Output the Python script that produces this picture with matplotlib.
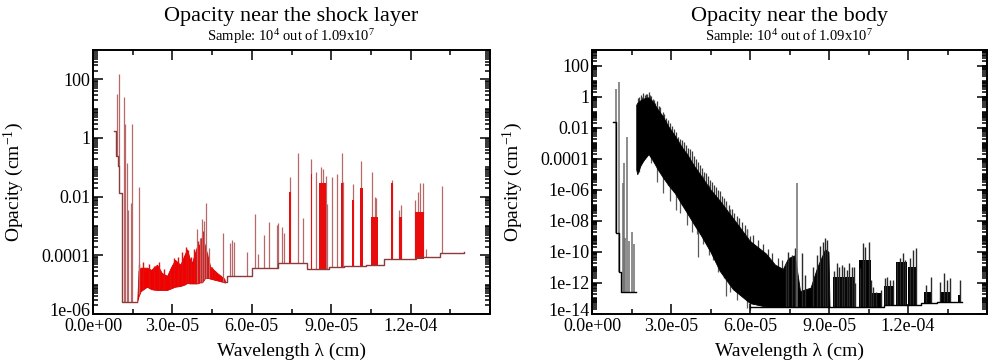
import numpy as np
import matplotlib
matplotlib.use("Agg")
import matplotlib.pyplot as plt
from matplotlib.ticker import FixedLocator, FixedFormatter, LogLocator, MultipleLocator, NullFormatter
from matplotlib.transforms import ScaledTranslation

plt.rcParams['font.family'] = ['Liberation Serif', 'DejaVu Serif']
plt.rcParams['mathtext.fontset'] = 'custom'
plt.rcParams['mathtext.rm'] = 'Liberation Serif'
plt.rcParams['mathtext.it'] = 'Liberation Serif:italic'

# ---------------- data: left panel (near the shock layer) ----------------
L_base_wl = [0.81e-5, 0.87e-5, 0.96e-5, 1.0e-5, 1.08e-5, 1.67e-5, 5.0e-5, 5.05e-5, 6.0e-5,
             7.0e-5, 8.1e-5, 8.9e-5, 9.5e-5, 1.03e-4, 1.1e-4, 1.22e-4, 1.31e-4, 1.40e-4]
L_base_val = [1.7, 0.25, 0.11, 0.013, 2.6e-6, np.nan, 1.2e-5, 1.9e-5, 3.8e-5,
              5.6e-5, 3.5e-5, 3.9e-5, 4.2e-5, 4.8e-5, 7.7e-5, 9e-5, 1.2e-4, 1.3e-4]

L_band_wl = [1.67e-5, 1.72e-5, 1.8e-5, 2.04e-5, 2.2e-5, 2.42e-5, 2.6e-5, 2.8e-5, 2.95e-5,
             3.1e-5, 3.3e-5, 3.45e-5, 3.55e-5, 3.65e-5, 3.74e-5, 3.85e-5, 3.93e-5, 4.05e-5,
             4.12e-5, 4.24e-5, 4.35e-5, 4.43e-5, 4.69e-5, 4.96e-5, 5.0e-5]
L_band_lo = [2.6e-6, 4e-6, 6e-6, 8.5e-6, 7e-6, 6.6e-6, 6.6e-6, 6.6e-6, 7.5e-6,
             8.5e-6, 9e-6, 1e-5, 1.15e-5, 1.1e-5, 1.1e-5, 1.1e-5, 1.1e-5, 1.2e-5,
             1.2e-5, 1.7e-5, 1.7e-5, 1.6e-5, 1.4e-5, 1.2e-5, 1.2e-5]
L_band_hi = [2.6e-6, 3e-5, 3.8e-5, 3.8e-5, 3.2e-5, 4.8e-5, 2.5e-5, 2e-5, 4e-5,
             7e-5, 4.8e-5, 1e-4, 1.6e-4, 8e-5, 5.5e-5, 1.2e-4, 2e-4, 2.5e-4,
             4.5e-4, 2e-4, 8e-5, 4.1e-5, 2.5e-5, 1.6e-5, 1.2e-5]

L_bspk_wl = [1.75e-5, 1.9e-5, 2.1e-5, 2.3e-5, 2.5e-5, 2.7e-5, 2.9e-5, 3.05e-5, 3.2e-5, 3.38e-5,
             3.5e-5, 3.6e-5, 3.7e-5, 3.8e-5, 3.98e-5, 4.08e-5, 4.16e-5, 4.3e-5, 4.5e-5, 4.6e-5, 4.8e-5]
L_bspk_top = [5e-5, 6e-5, 5e-5, 4.5e-5, 6e-5, 3.5e-5, 3e-5, 8e-5, 9e-5, 1.3e-4,
              2e-4, 1.5e-4, 9e-5, 1.6e-4, 3e-4, 4e-4, 7e-4, 1.2e-4, 4e-5, 3e-5, 2.2e-5]

L_spike_wl = [0.90e-5, 0.98e-5, 1.19e-5, 1.21e-5, 1.27e-5, 1.34e-5, 1.42e-5, 1.49e-5, 1.75e-5,
              3.93e-5, 4.05e-5, 4.12e-5, 4.2e-5, 4.28e-5, 4.39e-5, 4.92e-5, 5.18e-5, 5.26e-5,
              5.33e-5, 5.83e-5, 6.13e-5, 6.24e-5, 6.47e-5, 6.66e-5, 6.96e-5, 7.0e-5, 7.15e-5,
              7.23e-5, 7.45e-5, 7.76e-5, 7.94e-5, 8.25e-5, 8.44e-5, 8.6e-5, 8.7e-5, 8.8e-5,
              8.85e-5, 9.04e-5, 9.23e-5, 9.42e-5, 9.46e-5, 9.84e-5, 1.014e-4, 1.056e-4,
              1.064e-4, 1.07e-4, 1.13e-4, 1.158e-4, 1.165e-4, 1.218e-4, 1.227e-4, 1.237e-4,
              1.245e-4, 1.26e-4, 1.317e-4]
L_spike_top = [32, 150, 25, 3, 0.14, 3.6e-3, 6e-3, 3, 0.022,
               7.6e-4, 4e-4, 1.7e-3, 1.5e-3, 6.3e-3, 1.8e-4, 5.9e-4, 2.7e-4, 3.3e-4,
               2.9e-4, 1.3e-4, 2.5e-3, 1.1e-4, 5e-4, 1.4e-3, 1.1e-3, 1.3e-3, 9.5e-4,
               5.9e-4, 0.046, 0.32, 1.9e-3, 0.19, 0.067, 0.1, 0.09, 0.05,
               5.6e-3, 0.046, 0.057, 0.31, 0.032, 0.026, 0.16, 0.067,
               0.01, 0.009, 0.036, 3.6e-3, 5.4e-3, 8e-3, 0.014, 0.03,
               0.03, 1.6e-4, 0.023]

L_clu_start = [7.42e-5, 8.22e-5, 8.55e-5, 9.38e-5, 9.78e-5, 1.01e-4, 1.05e-4, 1.127e-4, 1.157e-4, 1.215e-4]
L_clu_end   = [7.48e-5, 8.28e-5, 8.82e-5, 9.46e-5, 9.88e-5, 1.02e-4, 1.075e-4, 1.133e-4, 1.167e-4, 1.25e-4]
L_clu_top   = [0.014, 0.06, 0.03, 0.03, 0.008, 0.02, 2e-3, 0.03, 2e-3, 3e-3]

# ---------------- data: right panel (near the body) ----------------
R_base_wl = [0.80e-5, 0.91e-5, 1.01e-5, 1.12e-5, 1.68e-5, 6.0e-5, 1.11e-4, 1.25e-4, 1.31e-4, 1.404e-4]
R_base_val = [0.024, 1.6e-9, 5e-12, 2.8e-13, np.nan, 3e-14, 3.7e-14, 4.8e-14, 6e-14, 6e-14]

R_band_wl = [1.68e-5, 1.72e-5, 1.85e-5, 2.0e-5, 2.15e-5, 2.3e-5, 2.5e-5, 2.7e-5, 2.9e-5,
             3.15e-5, 3.4e-5, 3.65e-5, 3.9e-5, 4.1e-5, 4.5e-5, 4.85e-5, 5.35e-5, 6.0e-5,
             6.6e-5, 6.95e-5, 7.25e-5, 7.45e-5, 7.7e-5, 7.9e-5, 8.3e-5, 8.55e-5, 8.85e-5,
             8.98e-5, 9.02e-5]
R_band_lo = [2e-5, 1e-5, 4e-5, 1e-4, 2e-4, 8e-5, 2e-5, 6e-6, 2e-6,
             6e-7, 1.2e-7, 2.5e-8, 5e-9, 1.5e-9, 1e-10, 6e-12, 4e-13, 5e-14,
             3e-14, 3e-14, 3e-14, 3e-14, 3e-14, 3e-14, 3e-14, 3e-14, 3e-14,
             3e-14, 3e-14]
R_band_hi = [0.3, 0.4, 0.6, 0.8, 0.9, 0.5, 0.15, 0.05, 0.012,
             3e-3, 6e-4, 1.5e-4, 3e-5, 1e-5, 1e-6, 2e-7, 1.5e-8, 5e-10,
             8e-11, 1.5e-11, 8e-12, 4e-11, 6e-11, 3e-13, 5e-13, 1e-11, 1.5e-10,
             1e-10, 3e-14]

R_early_wl = [0.91e-5, 1.01e-5, 1.18e-5, 1.23e-5, 1.27e-5, 1.33e-5, 1.39e-5, 1.52e-5, 1.58e-5, 7.8e-5]
R_early_top = [3, 9, 2.6e-6, 5e-5, 8e-10, 2.6e-3, 5e-10, 2e-9, 3e-10, 2.6e-6]

R_up_wl = [1.75e-5, 1.8e-5, 1.85e-5, 1.9e-5, 1.95e-5, 2.0e-5, 2.05e-5, 2.1e-5, 2.15e-5, 2.2e-5,
           2.25e-5, 2.3e-5, 2.35e-5, 2.4e-5, 2.45e-5, 2.55e-5, 2.6e-5, 2.68e-5, 2.75e-5, 2.82e-5,
           2.9e-5, 2.98e-5, 3.05e-5, 3.12e-5, 3.2e-5, 3.28e-5, 3.35e-5, 3.42e-5, 3.5e-5, 3.58e-5,
           3.65e-5, 3.72e-5, 3.8e-5, 3.88e-5, 3.95e-5, 4.02e-5, 4.1e-5, 4.18e-5, 4.25e-5, 4.32e-5,
           4.4e-5, 4.48e-5, 4.55e-5, 4.62e-5, 4.7e-5, 4.78e-5, 4.85e-5, 4.92e-5, 5.0e-5, 5.1e-5,
           5.2e-5, 5.3e-5, 5.4e-5, 5.5e-5, 5.6e-5, 5.7e-5, 5.8e-5, 5.9e-5, 6.0e-5, 6.1e-5,
           6.3e-5, 6.5e-5, 6.7e-5, 6.85e-5, 7.05e-5, 7.2e-5]
R_up_top = [0.8, 0.9, 1.2, 1.0, 1.8, 1.3, 1.4, 1.5, 1.9, 1.2,
            1.1, 0.7, 0.6, 0.4, 0.5, 0.25, 0.2, 0.1, 0.08, 0.04,
            0.03, 0.02, 0.012, 8e-3, 5e-3, 2.5e-3, 2e-3, 1.5e-3, 1.2e-3, 8e-4,
            5e-4, 4e-4, 3e-4, 1.5e-4, 1e-4, 6e-5, 4e-5, 2.5e-5, 1.5e-5, 1.2e-5,
            8e-6, 4e-6, 3e-6, 2e-6, 1.5e-6, 1e-6, 8e-7, 4e-7, 3e-7, 2e-7,
            1e-7, 6e-8, 3e-8, 2e-8, 1.5e-8, 8e-9, 5e-9, 3e-9, 1e-9, 1.2e-9,
            6e-10, 3e-10, 1.5e-10, 8e-11, 4e-11, 3e-11]

R_down_wl = [1.8e-5, 2.25e-5, 2.45e-5, 2.7e-5, 2.95e-5, 3.2e-5, 3.35e-5, 3.6e-5, 3.8e-5, 3.99e-5,
             4.03e-5, 4.2e-5, 4.45e-5, 4.6e-5, 4.8e-5, 5.0e-5, 5.1e-5, 5.24e-5, 5.5e-5, 5.89e-5, 6.0e-5]
R_down_bot = [1.5e-5, 5e-5, 3e-6, 6e-7, 2e-7, 5e-8, 3e-8, 5e-9, 2e-9, 1.5e-9,
              4.7e-11, 3e-10, 6e-11, 3e-11, 5e-12, 2e-12, 1.5e-13, 2.5e-13, 8e-14, 2.5e-14, 1.8e-14]

R_late_wl = [7.37e-5, 7.46e-5, 7.58e-5, 7.71e-5, 7.96e-5, 8.1e-5, 8.4e-5, 8.56e-5, 8.66e-5, 8.77e-5,
             8.85e-5, 8.91e-5, 9.2e-5, 9.3e-5, 9.38e-5, 9.48e-5, 9.57e-5, 9.67e-5, 9.77e-5, 9.86e-5,
             9.95e-5, 1.0e-4, 1.018e-4, 1.028e-4, 1.037e-4, 1.05e-4, 1.059e-4, 1.068e-4, 1.08e-4,
             1.096e-4, 1.113e-4, 1.122e-4, 1.132e-4, 1.142e-4, 1.16e-4, 1.17e-4, 1.18e-4, 1.188e-4,
             1.207e-4, 1.218e-4, 1.229e-4, 1.27e-4, 1.286e-4, 1.321e-4, 1.336e-4, 1.347e-4,
             1.359e-4, 1.397e-4]
R_late_top = [1.8e-11, 1.05e-10, 6.3e-11, 1.7e-10, 8e-11, 3.2e-12, 1.1e-11, 6.3e-11, 2.5e-10, 4.6e-10,
              7.4e-10, 5.9e-10, 6.3e-12, 2e-11, 1e-11, 1.4e-11, 1.1e-11, 6.8e-12, 1.8e-11, 1.1e-11,
              1.1e-11, 9.5e-13, 8.7e-12, 3.5e-10, 2.1e-10, 4.6e-10, 1.5e-12, 5.8e-13, 2.8e-13,
              3.5e-13, 2e-12, 2.5e-12, 1.5e-12, 1.5e-12, 2.3e-11, 3.8e-11, 8.1e-11, 3e-11,
              3.8e-11, 1.3e-10, 1.7e-10, 7.4e-13, 2.5e-12, 1.2e-12, 4.2e-12, 1.5e-12,
              2e-12, 1.5e-12]

R_clu_start = [9.15e-5, 1.015e-4, 1.058e-4, 1.11e-4, 1.155e-4, 1.2e-4, 1.26e-4, 1.32e-4, 1.39e-4]
R_clu_end   = [1.0e-4, 1.058e-4, 1.10e-4, 1.145e-4, 1.195e-4, 1.235e-4, 1.29e-4, 1.365e-4, 1.403e-4]
R_clu_top   = [2.5e-12, 3e-11, 2.2e-13, 6e-13, 2.3e-11, 1e-11, 2.5e-13, 2.5e-13, 1.6e-13]

x_ticks = [0.0, 3e-5, 6e-5, 9e-5, 1.2e-4]
x_tick_labels = ['0.0e+00', '3.0e-05', '6.0e-05', '9.0e-05', '1.2e-04']
L_y_ticks = [1e-6, 1e-4, 1e-2, 1, 100]
L_y_labels = ['1e-06', '0.0001', '0.01', '1', '100']
R_y_ticks = [1e-14, 1e-12, 1e-10, 1e-8, 1e-6, 1e-4, 1e-2, 1, 100]
R_y_labels = ['1e-14', '1e-12', '1e-10', '1e-08', '1e-06', '0.0001', '0.01', '1', '100']


def base_at(wl, bx, by, band_wl, band_lo):
    wl = np.asarray(wl, dtype=float)
    idx = np.clip(np.searchsorted(bx, wl, side='right') - 1, 0, None)
    b = np.asarray(by, dtype=float)[idx]
    fill = np.interp(wl, band_wl, band_lo)
    return np.where(np.isnan(b), fill, b)


fig = plt.figure(figsize=(9.89, 3.6), dpi=100)
axL = fig.add_axes([93 / 989, 46 / 360, 397 / 989, 264 / 360])
axR = fig.add_axes([592 / 989, 46 / 360, 395 / 989, 264 / 360])

# ---- left ----
axL.fill_between(L_band_wl, L_band_lo, L_band_hi, color='#f20000', lw=0.6, edgecolor='#d00000', zorder=2)
bl = np.interp(L_bspk_wl, L_band_wl, L_band_lo)
axL.vlines(L_bspk_wl, bl, L_bspk_top, color='#e01010', lw=1.0, zorder=2.2)
lb = base_at(L_spike_wl, L_base_wl, L_base_val, L_band_wl, L_band_lo)
axL.vlines(L_spike_wl, lb, L_spike_top, color='#b86868', lw=0.9, zorder=2.5)
cb = base_at(L_clu_start, L_base_wl, L_base_val, L_band_wl, L_band_lo)
for s, e, t, b in zip(L_clu_start, L_clu_end, L_clu_top, cb):
    axL.fill_between([s, e], [b, b], [t, t], color='#e80c0c', lw=0, zorder=2.6)
axL.step(L_base_wl, L_base_val, where='post', color='#8a3c3c', lw=1.0, zorder=3)

# ---- right ----
rb = base_at(R_early_wl, R_base_wl, R_base_val, R_band_wl, R_band_lo)
axR.vlines(R_early_wl, rb, R_early_top, color='#6e6e6e', lw=1.1, zorder=3)
ub = np.interp(R_up_wl, R_band_wl, R_band_lo)
axR.vlines(R_up_wl, ub, R_up_top, color='#3c3c3c', lw=0.9, zorder=1)
dt = np.interp(R_down_wl, R_band_wl, R_band_hi)
axR.vlines(R_down_wl, R_down_bot, dt, color='#5a5a5a', lw=0.9, zorder=1)
axR.fill_between(R_band_wl, R_band_lo, R_band_hi, color='black', lw=0.6, edgecolor='black', zorder=2)
cbr = base_at(R_clu_start, R_base_wl, R_base_val, R_band_wl, R_band_lo)
for s, e, t, b in zip(R_clu_start, R_clu_end, R_clu_top, cbr):
    axR.fill_between([s, e], [b, b], [t, t], color='black', lw=0, zorder=2)
lbr = base_at(R_late_wl, R_base_wl, R_base_val, R_band_wl, R_band_lo)
axR.vlines(R_late_wl, lbr, R_late_top, color='#2a2a2a', lw=1.0, zorder=2.5)
axR.step(R_base_wl, R_base_val, where='post', color='black', lw=1.0, zorder=3)

titles = ['Opacity near the shock layer', 'Opacity near the body']
sub = r'Sample: 10$^{4}$ out of 1.09x10$^{7}$'
for ax, ylim, yt, yl, title in [(axL, (1e-6, 1e3), L_y_ticks, L_y_labels, titles[0]),
                                (axR, (1e-14, 1e3), R_y_ticks, R_y_labels, titles[1])]:
    ax.set_yscale('log')
    ax.set_xlim(0, 1.5e-4)
    ax.set_ylim(*ylim)
    ax.xaxis.set_major_locator(FixedLocator(x_ticks))
    ax.xaxis.set_major_formatter(FixedFormatter(x_tick_labels))
    ax.xaxis.set_minor_locator(MultipleLocator(1.5e-5))
    ax.yaxis.set_major_locator(FixedLocator(yt))
    ax.yaxis.set_major_formatter(FixedFormatter(yl))
    ax.yaxis.set_minor_locator(LogLocator(base=10, subs=np.arange(1, 10), numticks=60))
    ax.yaxis.set_minor_formatter(NullFormatter())
    ax.tick_params(which='both', direction='in', top=True, right=True, labelsize=13, pad=2, width=1.1)
    ax.tick_params(axis='x', which='major', pad=3)
    ax.tick_params(which='major', length=7)
    ax.tick_params(which='minor', length=3.5)
    for sp in ax.spines.values():
        sp.set_linewidth(1.4)
    ax.set_xlabel('Wavelength λ (cm)', fontsize=14, labelpad=0)
    ax.set_ylabel('Opacity (cm$^{-1}$)', fontsize=14)
    ax.yaxis.set_label_coords(-0.17, 0.5)
    ax.xaxis.set_label_coords(0.5, -0.11)
    pos = ax.get_position()
    cx = (pos.x0 + pos.x1) / 2
    fig.text(cx, 1 - 16 / 360, title, ha='center', va='center', fontsize=16)
    fig.text(cx, 1 - 37 / 360, sub, ha='center', va='center', fontsize=10.5)

# lift the lowest y tick label slightly so it does not collide with the first x tick label
for ax in (axL, axR):
    for t in ax.yaxis.get_majorticklabels()[:1]:
        t.set_transform(t.get_transform() + ScaledTranslation(0, 5 / 100, fig.dpi_scale_trans))

fig.savefig('out.png', dpi=100)
